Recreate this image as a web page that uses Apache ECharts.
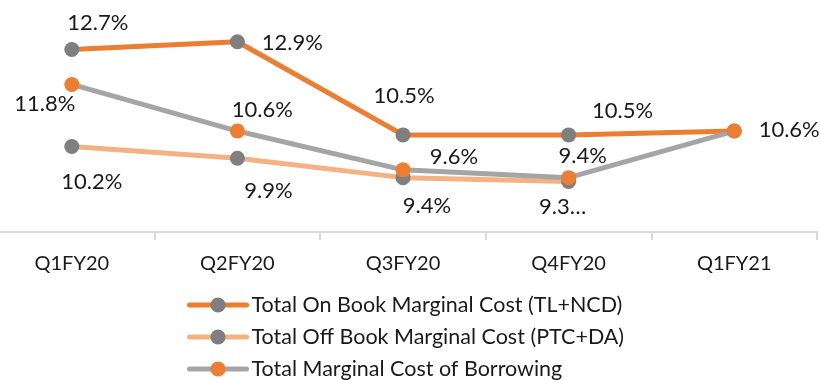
<!DOCTYPE html>
<html>
<head>
<meta charset="utf-8">
<script src="https://cdn.jsdelivr.net/npm/echarts@6/dist/echarts.min.js"></script>
<style>
  html, body { margin: 0; padding: 0; background: #fff; }
  #chart { width: 820px; height: 380px; }
</style>
</head>
<body>
<div id="chart"></div>
<script>
// Quarters on the category axis
const quarters = ['Q1FY20', 'Q2FY20', 'Q3FY20', 'Q4FY20', 'Q1FY21'];

// Marginal cost figures (%)
const onBookCost = [12.7, 12.9, 10.5, 10.5, 10.6];
const offBookCost = [10.2, 9.9, 9.4, 9.3, null];
const totalBorrowingCost = [11.8, 10.6, 9.6, 9.4, 10.6];

const seriesNames = [
  'Total On Book Marginal Cost (TL+NCD)',
  'Total Off Book Marginal Cost (PTC+DA)',
  'Total Marginal Cost of Borrowing'
];

// Label placement around each marker (dx, dy in px)
const onBookLabelOffsets = [[26, -27], [55, 1], [1, -39], [54, -24], null];
const offBookLabelOffsets = [[20, 35], [31, 33], [24, 28], [-6, 25], null];
const totalLabelOffsets = [[-27, 19], [25, -21], [51, -13], [14, -22], [55, -1]];

const FONT = 'Lato, "Noto Sans", sans-serif';
const TEXT = '#1a1a1a';

function buildData(values, offsets, truncateIdx) {
  return values.map((v, i) => {
    if (v === null) return null;
    const item = { value: v };
    const off = offsets[i];
    if (off) {
      item.label = {
        show: true,
        position: 'inside',
        offset: off,
        formatter: i === truncateIdx ? v.toFixed(1) + '…' : v.toFixed(1) + '%'
      };
    } else {
      item.label = { show: false };
    }
    return item;
  });
}

function lineSeries(name, values, offsets, lineColor, markerColor, truncateIdx) {
  return {
    name: name,
    type: 'line',
    data: buildData(values, offsets, truncateIdx),
    symbol: 'circle',
    symbolSize: 15,
    lineStyle: { color: lineColor, width: 5 },
    itemStyle: { color: markerColor },
    color: lineColor,
    label: {
      color: TEXT,
      fontFamily: FONT,
      fontSize: 22
    },
    emphasis: { disabled: true },
    animation: false
  };
}

const chart = echarts.init(document.getElementById('chart'), null, { renderer: 'canvas' });

chart.setOption({
  backgroundColor: '#ffffff',
  animation: false,
  grid: {
    left: -11, width: 828, top: -1, bottom: 148,
    containLabel: false, outerBoundsMode: 'none'
  },
  xAxis: {
    type: 'category',
    data: quarters,
    boundaryGap: true,
    axisLine: { lineStyle: { color: '#d9d9d9', width: 2 } },
    axisTick: { show: true, length: 8, lineStyle: { color: '#d9d9d9', width: 2 } },
    axisLabel: { color: TEXT, fontFamily: FONT, fontSize: 20, margin: 22 }
  },
  yAxis: {
    type: 'value',
    min: 8,
    max: 14,
    show: false,
    splitLine: { show: false }
  },
  legend: {
    orient: 'vertical',
    left: 187,
    top: 294,
    padding: 0,
    itemWidth: 57,
    itemHeight: 19,
    itemGap: 10,
    lineStyle: { width: 5, cap: 'round' },
    textStyle: { color: TEXT, fontFamily: FONT, fontSize: 21.5 },
    data: seriesNames
  },
  series: [
    lineSeries(seriesNames[0], onBookCost, onBookLabelOffsets, '#ED7D31', '#7F7F7F', -1),
    lineSeries(seriesNames[1], offBookCost, offBookLabelOffsets, '#F4B183', '#7F7F7F', 3),
    lineSeries(seriesNames[2], totalBorrowingCost, totalLabelOffsets, '#A5A5A5', '#ED7D31', -1)
  ]
});
</script>
</body>
</html>
